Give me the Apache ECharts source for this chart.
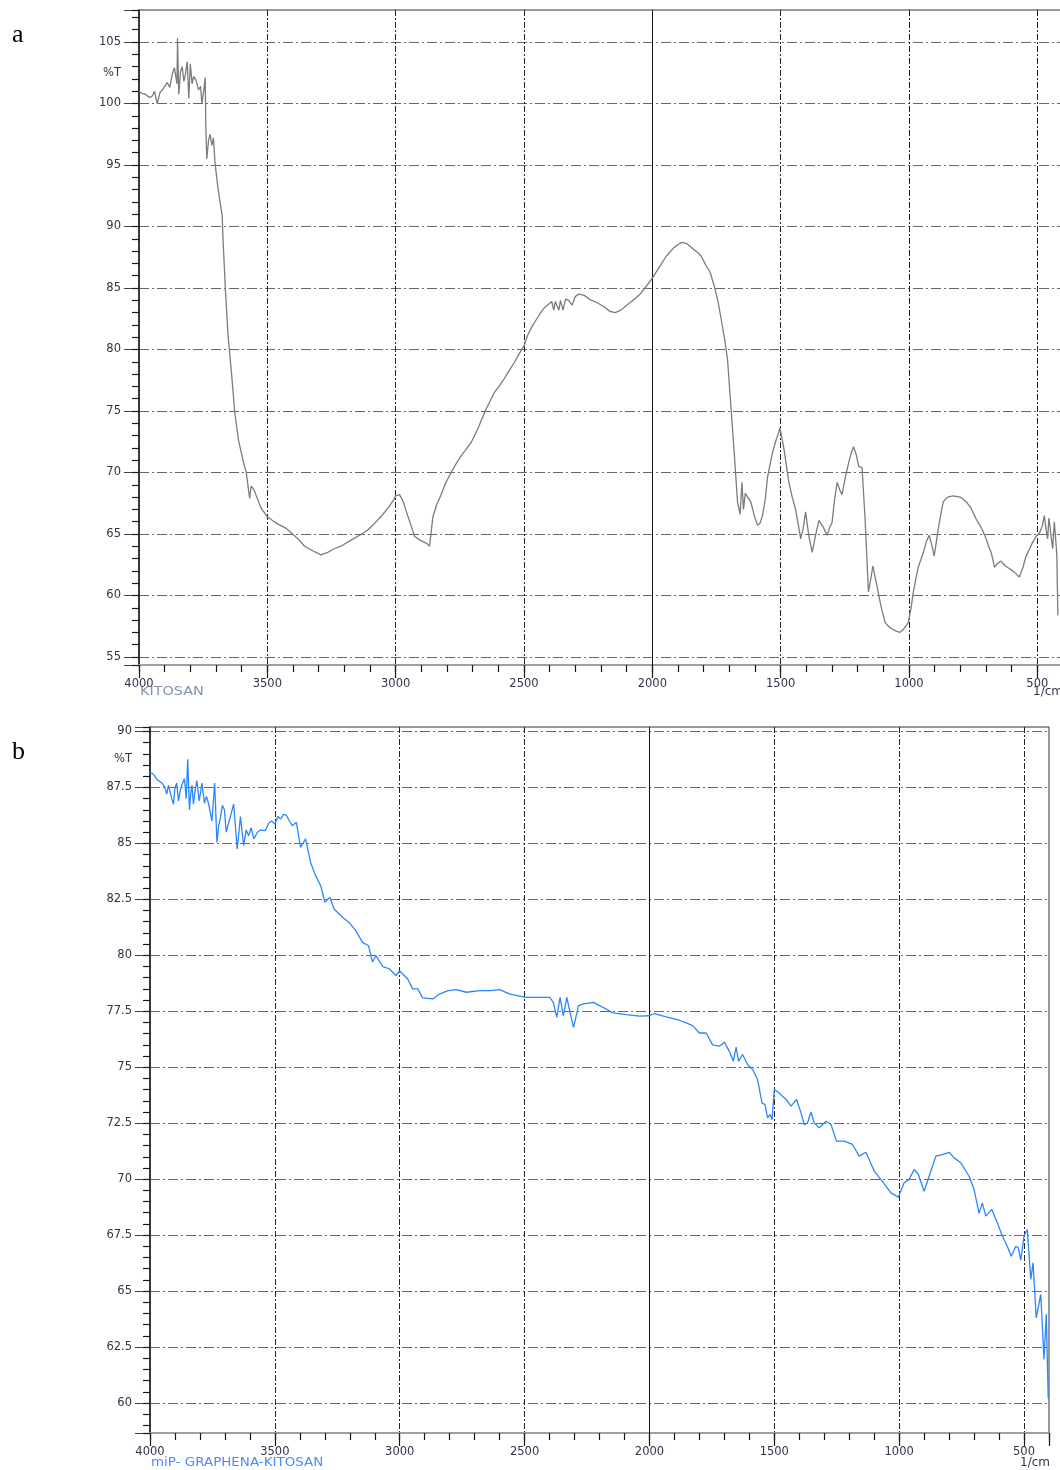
<!DOCTYPE html>
<html>
<head>
<meta charset="utf-8">
<script src="https://cdn.jsdelivr.net/npm/echarts@6/dist/echarts.min.js"></script>
<style>
html,body{margin:0;padding:0;background:#fff;}
#chart{width:1060px;height:1470px;}
</style>
</head>
<body>
<div id="chart"></div>
<script>
// ---- Panel a: KITOSAN (wavenumber 1/cm, %T) ----
const wnA = [4000,3987,3974,3961,3948,3940,3929,3918,3909,3900,3890,3880,3870,3862,3852,3850,3845,3838,3832,3825,3819,3812,3806,3800,3793,3787,3778,3768,3760,3755,3748,3742,3740,3736,3729,3723,3716,3710,3704,3691,3676,3672,3663,3653,3640,3627,3612,3595,3582,3569,3563,3552,3543,3524,3500,3480,3459,3430,3407,3380,3355,3320,3291,3265,3239,3205,3174,3140,3110,3085,3058,3030,3010,3000,2985,2970,2958,2942,2926,2905,2885,2877,2868,2855,2840,2823,2804,2784,2765,2745,2725,2707,2681,2665,2649,2630,2616,2597,2578,2560,2539,2520,2500,2485,2468,2450,2435,2420,2403,2392,2384,2378,2371,2364,2358,2348,2338,2326,2313,2300,2287,2265,2242,2215,2190,2165,2145,2122,2100,2075,2048,2025,2000,1970,1945,1915,1887,1865,1842,1825,1810,1790,1775,1758,1745,1732,1718,1707,1694,1681,1668,1658,1651,1645,1638,1632,1616,1603,1590,1580,1571,1560,1552,1542,1532,1520,1510,1503,1495,1487,1478,1468,1455,1442,1430,1422,1412,1403,1390,1377,1365,1351,1342,1335,1319,1308,1300,1290,1280,1270,1261,1248,1235,1225,1216,1205,1196,1183,1171,1158,1150,1141,1133,1125,1110,1093,1080,1067,1050,1035,1020,1003,992,983,973,964,954,944,932,921,910,902,894,886,876,867,850,828,800,776,758,738,718,699,690,680,673,667,655,641,625,609,590,570,556,544,530,519,505,491,480,473,466,460,455,452,446,440,434,430,426,424,420];
const tA  = [101.0,100.8,100.75,100.5,100.6,101.0,100.0,100.9,101.1,101.4,101.7,101.3,102.4,102.9,101.6,105.3,100.75,102.6,103.0,101.8,102.4,103.4,100.4,103.2,101.6,102.2,101.9,101.1,101.4,100.0,101.0,102.1,98.5,95.5,97.0,97.5,96.6,97.2,95.2,92.9,90.9,88.7,84.7,81.1,78.2,74.9,72.6,71.0,70.0,67.9,68.9,68.6,68.1,67.1,66.4,66.1,65.8,65.5,65.1,64.6,64.0,63.6,63.3,63.5,63.8,64.1,64.5,64.9,65.3,65.8,66.4,67.1,67.7,68.1,68.2,67.6,66.8,65.8,64.8,64.5,64.3,64.2,64.0,66.4,67.4,68.2,69.2,70.0,70.7,71.35,71.9,72.4,73.5,74.3,75.1,75.9,76.5,77.0,77.6,78.2,78.9,79.6,80.3,81.2,81.9,82.5,83.0,83.4,83.7,83.9,83.2,83.9,83.9,83.2,84.0,83.2,84.1,84.0,83.6,84.3,84.5,84.4,84.05,83.8,83.5,83.1,83.0,83.2,83.6,84.0,84.5,85.1,85.8,86.8,87.6,88.3,88.7,88.6,88.2,87.9,87.6,86.8,86.3,85.1,84.0,82.5,80.8,79.2,75.4,71.6,67.6,66.6,69.2,67.0,68.3,68.4,67.6,66.5,65.7,65.9,66.5,67.8,69.5,70.6,71.6,72.5,73.1,73.6,72.8,71.9,70.6,69.2,68.0,67.0,65.6,64.6,65.5,66.8,64.8,63.5,64.8,66.1,65.8,65.6,64.9,65.6,65.9,67.8,69.2,68.6,68.2,69.6,70.8,71.6,72.1,71.4,70.5,70.4,66.2,60.3,61.2,62.4,61.6,60.8,59.2,57.8,57.5,57.3,57.1,57.0,57.3,57.8,59.0,60.3,61.4,62.3,62.9,63.5,64.4,64.9,64.0,63.2,64.3,65.4,66.6,67.6,68.0,68.1,68.0,67.6,67.1,66.2,65.5,64.6,64.0,63.5,62.9,62.3,62.6,62.8,62.4,62.2,61.9,61.5,62.3,63.2,63.8,64.3,64.8,65.1,65.7,66.5,65.4,64.6,66.3,65.8,64.7,63.8,66.0,65.0,63.9,63.2,58.4];

// ---- Panel b: miP- GRAPHENA-KITOSAN ----
const wnB = [4000,3987,3973,3953,3940,3933,3926,3920,3913,3906,3900,3893,3886,3880,3873,3862,3855,3849,3842,3837,3832,3826,3819,3812,3803,3797,3792,3782,3774,3765,3752,3741,3732,3725,3719,3710,3702,3695,3688,3676,3665,3651,3644,3638,3625,3615,3605,3595,3584,3570,3558,3538,3525,3513,3500,3488,3477,3465,3454,3442,3430,3414,3397,3377,3357,3337,3316,3300,3280,3263,3229,3203,3176,3149,3125,3109,3095,3068,3042,3015,3000,2968,2948,2928,2908,2867,2841,2807,2774,2733,2680,2639,2599,2559,2495,2452,2399,2385,2371,2358,2345,2331,2318,2304,2284,2264,2224,2200,2173,2147,2093,2040,2000,1980,1933,1880,1853,1827,1800,1773,1747,1720,1700,1680,1664,1653,1643,1627,1607,1587,1567,1549,1537,1527,1517,1509,1500,1480,1467,1453,1433,1411,1393,1380,1367,1353,1340,1320,1293,1273,1251,1220,1187,1160,1133,1100,1067,1033,1003,980,960,940,923,900,880,853,827,800,780,753,720,700,680,667,653,629,607,587,567,551,533,523,513,500,487,473,464,451,433,420,411,403];
const tB  = [88.17,88.1,87.87,87.7,87.5,87.2,87.6,87.65,87.0,86.75,87.5,87.7,86.9,87.3,87.6,87.9,87.0,88.76,86.5,87.2,87.6,86.75,87.4,87.8,86.9,87.3,87.7,86.8,87.1,86.75,86.0,87.7,85.04,85.8,86.1,86.7,86.5,85.5,85.8,86.3,86.76,84.75,85.5,86.2,84.9,85.6,85.34,85.7,85.2,85.5,85.6,85.57,85.9,86.0,85.86,86.2,86.09,86.3,86.26,86.0,85.79,85.94,84.82,85.2,84.15,83.56,83.1,82.37,82.59,82.07,81.7,81.47,81.1,80.58,80.43,79.7,79.99,79.5,79.4,79.1,79.3,78.94,78.5,78.5,78.1,78.05,78.27,78.42,78.47,78.35,78.42,78.42,78.47,78.27,78.12,78.12,78.12,77.9,77.23,78.12,77.3,78.12,77.45,76.78,77.75,77.83,77.9,77.75,77.6,77.43,77.35,77.28,77.3,77.4,77.25,77.1,76.98,76.86,76.53,76.53,76.0,75.94,76.12,75.71,75.27,75.9,75.27,75.57,75.12,74.9,74.45,73.4,73.33,72.74,72.89,72.66,74.0,73.85,73.7,73.56,73.26,73.56,72.96,72.44,72.51,73.0,72.51,72.29,72.59,72.44,71.7,71.7,71.55,71.03,71.2,70.36,69.9,69.39,69.2,69.84,69.99,70.43,70.21,69.46,70.13,71.03,71.1,71.2,70.95,70.73,70.13,69.54,68.47,68.94,68.35,68.65,68.05,67.46,67.0,66.56,67.0,66.93,66.38,67.46,67.75,65.52,66.26,63.8,64.85,61.95,63.96,60.2];

// axis ranges and tick steps
const xRange = [400, 4000];
const xMajor = 500, xMinor = 100;
const yRangeA = [54.35, 107.6], yMajorA = 5, yMinorA = 1, pctTA = 102.5;
const yRangeB = [58.66, 90.2],  yMajorB = 2.5, yMinorB = 0.5, pctTB = 88.75;
const solidLines = [2000];

const LABEL_COLOR = '#30344a';
const FONT = '"DejaVu Sans", Verdana, sans-serif';

function isMult(v, step){ const r = v/step; return Math.abs(r - Math.round(r)) < 1e-6; }
function zip(a,b){ return a.map((v,i)=>[v,b[i]]); }

function makeXAxes(grid){
  return [
    { gridIndex:grid, type:'value', position:'bottom', min:xRange[0], max:xRange[1], inverse:true,
      minInterval:xMajor, maxInterval:xMajor,
      axisLine:{show:true, onZero:false, lineStyle:{color:'#a0a0a0', width:2}},
      axisTick:{show:true, length:13, lineStyle:{color:'#1a1a1a', width:1.2}},
      axisLabel:{margin:13, fontSize:11.5, color:LABEL_COLOR, fontFamily:FONT,
        formatter:v => isMult(v, xMajor) ? String(Math.round(v)) : ''},
      splitLine:{show:true, showMinLine:false, showMaxLine:false,
        lineStyle:{color:'#222', width:1, type:[6,2,2,2]}}
    },
    { gridIndex:grid, type:'value', position:'bottom', min:xRange[0], max:xRange[1], inverse:true,
      minInterval:xMinor, maxInterval:xMinor,
      axisLine:{show:false, onZero:false},
      axisTick:{show:true, length:7, lineStyle:{color:'#1a1a1a', width:1.2}},
      axisLabel:{show:false}, splitLine:{show:false}
    }
  ];
}
function makeYAxes(grid, range, major, minor, pctT){
  const labelStep = major/2;
  return [
    { gridIndex:grid, type:'value', position:'left', min:range[0], max:range[1],
      minInterval:major, maxInterval:major,
      axisLine:{show:true, onZero:false, lineStyle:{color:'#1a1a1a', width:1.5}},
      axisTick:{show:true, length:15, lineStyle:{color:'#444', width:1}},
      axisLabel:{show:false},
      splitLine:{show:true, showMinLine:false, showMaxLine:false,
        lineStyle:{color:'#6a6a6a', width:1, type:[10,3,2,3]}}
    },
    { gridIndex:grid, type:'value', position:'left', min:range[0], max:range[1],
      minInterval:minor, maxInterval:minor,
      axisLine:{show:false, onZero:false},
      axisTick:{show:true, length:7, lineStyle:{color:'#1a1a1a', width:1.2}},
      axisLabel:{show:false}, splitLine:{show:false}
    },
    { gridIndex:grid, type:'value', position:'left', min:range[0], max:range[1],
      minInterval:labelStep, maxInterval:labelStep,
      axisLine:{show:false, onZero:false}, axisTick:{show:false}, splitLine:{show:false},
      axisLabel:{show:true, margin:18, fontSize:11.5, color:LABEL_COLOR, fontFamily:FONT,
        formatter:v => {
          if (Math.abs(v - pctT) < 1e-6) return '%T';
          if (isMult(v, major) && Math.abs(v-range[0])>1e-6 && Math.abs(v-range[1])>1e-6)
            return String(Math.round(v*10)/10);
          return '';
        }}
    }
  ];
}

const chart = echarts.init(document.getElementById('chart'), null, {renderer:'canvas', width:1060, height:1470});

const solidMark = {
  symbol:'none', silent:true, label:{show:false},
  lineStyle:{color:'#111', type:'solid', width:1},
  data: solidLines.map(v => ({xAxis:v}))
};

const capFont = '12px "DejaVu Sans", Verdana, sans-serif';

chart.setOption({
  backgroundColor:'#ffffff',
  animation:false,
  grid:[
    {left:139, top:10, width:924, height:655, show:true, borderColor:'#333', borderWidth:1, outerBoundsMode:'none', containLabel:false},
    {left:150, top:727, width:899, height:706, show:true, borderColor:'#333', borderWidth:1, outerBoundsMode:'none', containLabel:false}
  ],
  xAxis: makeXAxes(0).concat(makeXAxes(1)),
  yAxis: makeYAxes(0, yRangeA, yMajorA, yMinorA, pctTA).concat(makeYAxes(1, yRangeB, yMajorB, yMinorB, pctTB)),
  series:[
    { type:'line', xAxisIndex:0, yAxisIndex:0, data:zip(wnA,tA), showSymbol:false, symbol:'none',
      lineStyle:{color:'#7c7c7c', width:1.3}, markLine:solidMark, z:5 },
    { type:'line', xAxisIndex:2, yAxisIndex:3, data:zip(wnB,tB), showSymbol:false, symbol:'none',
      lineStyle:{color:'#2a86ff', width:1.3}, markLine:solidMark, z:5 }
  ],
  graphic:[
    {type:'text', left:12, top:22, style:{text:'a', font:'26px "Liberation Serif", "Times New Roman", serif', fill:'#000'}},
    {type:'text', left:12, top:739, style:{text:'b', font:'26px "Liberation Serif", "Times New Roman", serif', fill:'#000'}},
    {type:'text', x:140, y:686, scaleX:1.2, style:{text:'KITOSAN', font:capFont, fill:'#8593b3'}},
    {type:'text', x:1033, y:686, style:{text:'1/cm', font:capFont, fill:LABEL_COLOR}},
    {type:'text', x:151, y:1457, scaleX:1.12, style:{text:'miP- GRAPHENA-KITOSAN', font:capFont, fill:'#4a8cff'}},
    {type:'text', x:1020, y:1457, style:{text:'1/cm', font:capFont, fill:LABEL_COLOR}}
  ]
});
</script>
</body>
</html>
